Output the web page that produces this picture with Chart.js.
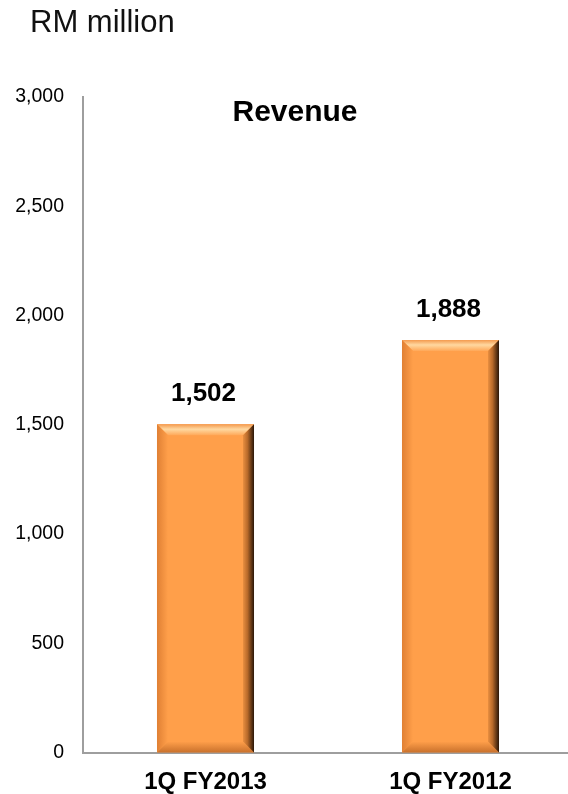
<!DOCTYPE html>
<html>
<head>
<meta charset="utf-8">
<script src="https://cdn.jsdelivr.net/npm/chart.js@4"></script>
<style>
  html, body { margin:0; padding:0; background:#fff; overflow:hidden; width:568px; height:794px; }
  #wrap { position:relative; width:568px; height:794px; }
  #unit { position:absolute; left:30px; top:6px; font-family:"Liberation Sans", Arial, sans-serif; font-size:31px; line-height:31px; color:#111; white-space:nowrap; }
  canvas { position:absolute; left:0; top:0; }
</style>
</head>
<body>
<div id="wrap">
  <canvas id="c" width="575" height="794"></canvas>
  <div id="unit">RM million</div>
</div>
<script>
const categories = ["1Q FY2013", "1Q FY2012"];
const revenue = [1502, 1888];
const chartTitle = "Revenue";
const yMin = 0, yMax = 3000, yStep = 500;

const FONT = '"Liberation Sans", Arial, sans-serif';

const bevelPlugin = {
  id: 'bevel',
  afterDatasetsDraw(chart) {
    const ctx = chart.ctx;
    const meta = chart.getDatasetMeta(0);
    meta.data.forEach((bar, i) => {
      const p = bar.getProps(['x','y','base','width'], true);
      const l = p.x - p.width/2, r = p.x + p.width/2, t = p.y, b = p.base;
      const s = 11;
      ctx.save();
      // top bevel
      let g = ctx.createLinearGradient(0, t, 0, t+s);
      g.addColorStop(0, '#F49A4E');
      g.addColorStop(0.45, '#FFD8A0');
      g.addColorStop(1, '#FFA858');
      ctx.fillStyle = g;
      ctx.beginPath(); ctx.moveTo(l,t); ctx.lineTo(r,t); ctx.lineTo(r-s,t+s); ctx.lineTo(l+s,t+s); ctx.closePath(); ctx.fill();
      // left bevel
      g = ctx.createLinearGradient(l, 0, l+s, 0);
      g.addColorStop(0, '#E08034');
      g.addColorStop(1, '#FF9F4A');
      ctx.fillStyle = g;
      ctx.beginPath(); ctx.moveTo(l,t); ctx.lineTo(l+s,t+s); ctx.lineTo(l+s,b-s); ctx.lineTo(l,b); ctx.closePath(); ctx.fill();
      // bottom bevel
      g = ctx.createLinearGradient(0, b-s, 0, b);
      g.addColorStop(0, '#FF9F4A');
      g.addColorStop(1, '#C9712C');
      ctx.fillStyle = g;
      ctx.beginPath(); ctx.moveTo(l,b); ctx.lineTo(l+s,b-s); ctx.lineTo(r-s,b-s); ctx.lineTo(r,b); ctx.closePath(); ctx.fill();
      // right bevel
      g = ctx.createLinearGradient(r-s-2, 0, r, 0);
      g.addColorStop(0, '#FF9F4A');
      g.addColorStop(0.5, '#B86A2A');
      g.addColorStop(1, '#2A1608');
      ctx.fillStyle = g;
      ctx.beginPath(); ctx.moveTo(r,t); ctx.lineTo(r,b); ctx.lineTo(r-s,b-s); ctx.lineTo(r-s,t+s); ctx.closePath(); ctx.fill();
      // value label
      ctx.fillStyle = '#000';
      ctx.font = 'bold 26px ' + FONT;
      ctx.textAlign = 'center';
      ctx.textBaseline = 'middle';
      ctx.fillText(revenue[i].toLocaleString('en-US'), p.x - 2, t - 30);
      ctx.restore();
    });
    // chart title inside plot
    const ca = chart.chartArea;
    ctx.save();
    ctx.fillStyle = '#000';
    ctx.font = 'bold 30px ' + FONT;
    ctx.textAlign = 'center';
    ctx.textBaseline = 'middle';
    ctx.fillText(chartTitle, 295, ca.top + 16);
    ctx.restore();
  }
};

new Chart(document.getElementById('c'), {
  type: 'bar',
  data: {
    labels: categories,
    datasets: [{
      data: revenue,
      backgroundColor: '#FF9F4A',
      borderWidth: 0,
      categoryPercentage: 1,
      barPercentage: 0.396
    }]
  },
  options: {
    responsive: false,
    animation: false,
    events: [],
    layout: { padding: { top: 97, left: 0, right: 2, bottom: 0 } },
    plugins: { legend: { display: false }, tooltip: { enabled: false }, title: { display: false } },
    scales: {
      x: {
        grid: { display: false, drawTicks: false },
        border: { display: true, color: '#9E9E9E', width: 2 },
        ticks: { color: '#000', font: { family: FONT, size: 24, weight: 'bold' }, padding: 15, maxRotation: 0 },
        afterFit(scale) { scale.height = 41.5; }
      },
      y: {
        min: yMin, max: yMax,
        grid: { display: false, drawTicks: false },
        border: { display: true, color: '#9E9E9E', width: 2 },
        ticks: {
          stepSize: yStep,
          color: '#000',
          font: { family: FONT, size: 19.5 },
          padding: 19,
          callback: v => v.toLocaleString('en-US')
        },
        afterFit(scale) { scale.width = 83; }
      }
    }
  },
  plugins: [bevelPlugin]
});
</script>
</body>
</html>
